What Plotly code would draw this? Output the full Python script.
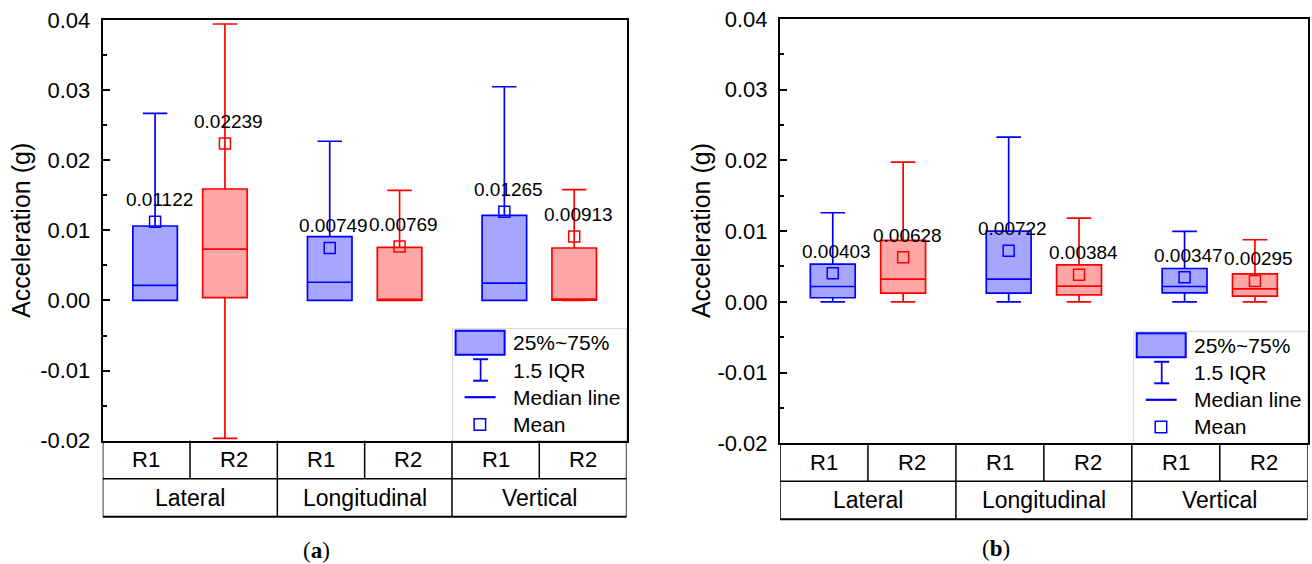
import plotly.graph_objects as go

W, H = 1312, 564

# ---------------- data ----------------
categories = ["Lateral", "Longitudinal", "Vertical"]
series = ["R1", "R2"]
box_positions = [0.6, 1.4, 2.6, 3.4, 4.6, 5.4]   # R1/R2 of each category
box_series = ["R1", "R2", "R1", "R2", "R1", "R2"]

# panel (a)
a_lower = [0.0, -0.01967, 0.0, 0.0, 0.0, 0.0]
a_q1 = [0.0, 0.0004, 0.0, 0.0, 0.0, 0.00005]
a_median = [0.00214, 0.00733, 0.0026, 0.0001, 0.00247, 0.0002]
a_q3 = [0.01062, 0.0159, 0.0091, 0.00757, 0.01214, 0.00748]
a_upper = [0.02667, 0.03943, 0.02271, 0.01571, 0.03048, 0.01581]
a_mean = [0.01122, 0.02239, 0.00749, 0.00769, 0.01265, 0.00913]

# panel (b)
b_lower = [0.0, 0.0, 0.0, 0.0, 0.0, 0.0]
b_q1 = [0.00057, 0.00122, 0.00122, 0.00099, 0.00127, 0.00079]
b_median = [0.00216, 0.0032, 0.0032, 0.00221, 0.00216, 0.00184]
b_q3 = [0.00532, 0.00867, 0.00999, 0.00523, 0.00471, 0.00396]
b_upper = [0.01259, 0.01975, 0.02328, 0.01183, 0.00994, 0.00877]
b_mean = [0.00403, 0.00628, 0.00722, 0.00384, 0.00347, 0.00295]

ytick_vals = [-0.02, -0.01, 0.0, 0.01, 0.02, 0.03, 0.04]
ytick_text = ["-0.02", "-0.01", "0.00", "0.01", "0.02", "0.03", "0.04"]
legend_labels = ["25%~75%", "1.5 IQR", "Median line", "Mean"]
y_title = "Acceleration (g)"
captions = ["(<b>a</b>)", "(<b>b</b>)"]

# ---------------- styles ----------------
line_col = {"R1": "#0000FF", "R2": "#FF0000"}
fill_col = {"R1": "#A6A6FF", "R2": "#FFA6A6"}
FONT = "Liberation Sans, Arial, sans-serif"
SERIF = "Liberation Serif, Times New Roman, serif"


def px(x):
    return x / W


def py(y):
    return 1 - y / H


panels = [
    dict(xa="x", ya="y", l=102.7, r=626.6, t=20.0, b=440.7,
         lower=a_lower, q1=a_q1, med=a_median, q3=a_q3, up=a_upper, mean=a_mean,
         cap=captions[0], cap_x=316, cap_y=550, title_x=21.5),
    dict(xa="x2", ya="y2", l=780.0, r=1307.7, t=18.8, b=443.3,
         lower=b_lower, q1=b_q1, med=b_median, q3=b_q3, up=b_upper, mean=b_mean,
         cap=captions[1], cap_x=996, cap_y=548, title_x=701),
]

fig = go.Figure()
shapes = []
annotations = []


def text_ann(x, y, text, size, xref="paper", yref="paper", xanchor="center", family=FONT, **kw):
    d = dict(x=x, y=y, xref=xref, yref=yref, text=text, showarrow=False,
             xanchor=xanchor, yanchor="middle",
             font=dict(family=family, size=size, color="black"))
    d.update(kw)
    return d


for p in panels:
    # boxes
    for i, pos in enumerate(box_positions):
        s = box_series[i]
        fig.add_trace(go.Box(
            x=[pos], q1=[p["q1"][i]], median=[p["med"][i]], q3=[p["q3"][i]],
            lowerfence=[p["lower"][i]], upperfence=[p["up"][i]],
            width=0.51, whiskerwidth=0.55, boxpoints=False,
            fillcolor=fill_col[s], line=dict(color=line_col[s], width=1.7),
            showlegend=False, hoverinfo="skip", xaxis=p["xa"], yaxis=p["ya"]))
    # means
    fig.add_trace(go.Scatter(
        x=box_positions, y=p["mean"], mode="markers",
        marker=dict(symbol="square-open", size=11,
                    color=[line_col[s] for s in box_series],
                    line=dict(width=1.5)),
        showlegend=False, hoverinfo="skip", xaxis=p["xa"], yaxis=p["ya"]))
    for pos, m in zip(box_positions, p["mean"]):
        annotations.append(text_ann(pos, m, f"{m:.5f}", 19, xref=p["xa"], yref=p["ya"],
                                    yshift=22, xshift=4))

    # table below axis
    b = p["b"]
    r1, r2 = b + 38, b + 76
    tl = dict(color="black", width=1.5)
    for yy in (r1, r2):
        shapes.append(dict(type="line", xref=p["xa"], yref="paper", x0=0, x1=6,
                           y0=py(yy), y1=py(yy),
                           line=dict(color="black", width=2 if yy == r2 else 1.5)))
    for xx in (0, 2, 4, 6):
        shapes.append(dict(type="line", xref=p["xa"], yref="paper", x0=xx, x1=xx,
                           y0=py(b), y1=py(r2), line=tl))
    for xx in (1, 3, 5):
        shapes.append(dict(type="line", xref=p["xa"], yref="paper", x0=xx, x1=xx,
                           y0=py(b), y1=py(r1), line=tl))
    for gi, g in enumerate(categories):
        for si, s in enumerate(series):
            annotations.append(text_ann(gi * 2 + si + 0.5, py((b + r1) / 2), s, 22, xref=p["xa"]))
        annotations.append(text_ann(gi * 2 + 1, py((r1 + r2) / 2), g, 23, xref=p["xa"]))

    # legend (drawn)
    fx = p["r"] - 174
    shapes.append(dict(type="rect", xref="paper", yref="paper", x0=px(fx), x1=px(p["r"]),
                       y0=py(b - 112), y1=py(b), fillcolor="white",
                       line=dict(color="#d4d4d4", width=1), layer="below"))
    shapes.append(dict(type="rect", xref="paper", yref="paper", x0=px(fx + 3), x1=px(fx + 52),
                       y0=py(b - 110), y1=py(b - 86), fillcolor=fill_col["R1"],
                       line=dict(color=line_col["R1"], width=2)))
    cx = fx + 28
    shapes.append(dict(type="line", xref="paper", yref="paper", x0=px(cx), x1=px(cx),
                       y0=py(b - 81.5), y1=py(b - 60), line=dict(color=line_col["R1"], width=1.7)))
    for yy in (b - 81.5, b - 60):
        shapes.append(dict(type="line", xref="paper", yref="paper", x0=px(cx - 7.5), x1=px(cx + 7.5),
                           y0=py(yy), y1=py(yy), line=dict(color=line_col["R1"], width=2)))
    shapes.append(dict(type="line", xref="paper", yref="paper", x0=px(fx + 12), x1=px(fx + 43),
                       y0=py(b - 43.5), y1=py(b - 43.5), line=dict(color=line_col["R1"], width=2.2)))
    shapes.append(dict(type="rect", xref="paper", yref="paper", x0=px(fx + 21.5), x1=px(fx + 33),
                       y0=py(b - 22), y1=py(b - 10.5), line=dict(color=line_col["R1"], width=1.5)))
    for lbl, yy in zip(legend_labels, (b - 98, b - 70.5, b - 43.5, b - 16.5)):
        annotations.append(text_ann(px(fx + 58.5), py(yy), lbl, 21, xanchor="left"))

    # axis title and caption
    annotations.append(text_ann(px(p["title_x"]), py((p["t"] + p["b"]) / 2), y_title, 25, textangle=-90))
    annotations.append(text_ann(px(p["cap_x"]), py(p["cap_y"]), p["cap"], 23, family=SERIF))

axis_common_x = dict(range=[0, 6], showticklabels=False, ticks="", showgrid=False, zeroline=False,
                     showline=True, linecolor="black", linewidth=2, mirror=True, fixedrange=True,
                     automargin=False)
axis_common_y = dict(range=[-0.02, 0.04], tickvals=ytick_vals, ticktext=ytick_text,
                     ticks="inside", ticklen=7, tickwidth=1.5, tickcolor="black",
                     minor=dict(ticks="inside", ticklen=4, tickwidth=1.5, tickcolor="black", dtick=0.005),
                     ticklabelstandoff=6,
                     tickfont=dict(family=FONT, size=22, color="black"),
                     showgrid=False, zeroline=False, showline=True, linecolor="black",
                     linewidth=2, mirror=True, fixedrange=True, automargin=False)

p0, p1 = panels
fig.update_layout(
    width=W, height=H, autosize=False,
    margin=dict(l=0, r=0, t=0, b=0, pad=0),
    paper_bgcolor="white", plot_bgcolor="white",
    boxmode="overlay", showlegend=False,
    xaxis=dict(domain=[px(p0["l"]), px(p0["r"])], anchor="y", **axis_common_x),
    yaxis=dict(domain=[py(p0["b"]), py(p0["t"])], anchor="x", **axis_common_y),
    xaxis2=dict(domain=[px(p1["l"]), px(p1["r"])], anchor="y2", **axis_common_x),
    yaxis2=dict(domain=[py(p1["b"]), py(p1["t"])], anchor="x2", **axis_common_y),
    shapes=shapes, annotations=annotations,
)

fig.write_html("out.html")
